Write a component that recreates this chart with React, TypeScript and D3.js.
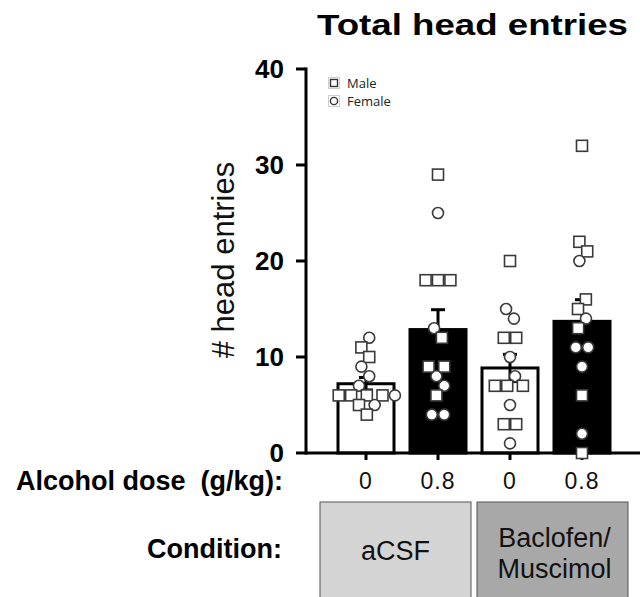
import React from 'react';
import * as d3 from 'd3';

// ---- data ----
const groupKeys = ['aCSF-0', 'aCSF-0.8', 'BM-0', 'BM-0.8'];
const doseLabels = ['0', '0.8', '0', '0.8'];
const conditionLabels = [['aCSF'], ['Baclofen/', 'Muscimol']];
const yTicks = [0, 10, 20, 30, 40];

const maleValues = [
  [11, 10, 6, 6, 6, 6, 5, 4],
  [29, 18, 18, 18, 12, 9, 9, 6],
  [20, 12, 12, 7, 7, 7, 3, 3],
  [32, 22, 21, 16, 15, 13, 6, 0],
];
const femaleValues = [
  [12, 9, 8, 7, 6, 5],
  [25, 13, 8, 7, 4, 4],
  [15, 14, 10, 8, 5, 1],
  [20, 14, 11, 11, 9, 2],
];

type Pt = { v: number; sex: 'M' | 'F'; x: number; y: number; fy?: number };

const W = 640;
const H = 597;

const App: React.FC = () => {
  const y = d3.scaleLinear().domain([0, 40]).range([453, 69]);
  const x = d3.scalePoint<string>().domain(groupKeys).range([366, 582]);

  const axisX = 306;
  const barW = 56;
  const mk = 11; // marker size

  const stats = groupKeys.map((g, i) => {
    const all = [...maleValues[i], ...femaleValues[i]];
    const mean = d3.mean(all) as number;
    const sem = (d3.deviation(all) as number) / Math.sqrt(all.length);
    return { g, mean, sem };
  });

  // simple beeswarm so overlapping points are spread sideways
  const swarms = groupKeys.map((g, i) => {
    const cx = x(g) as number;
    const pts: Pt[] = [
      ...maleValues[i].map(v => ({ v, sex: 'M' as const, x: 0, y: 0 })),
      ...femaleValues[i].map(v => ({ v, sex: 'F' as const, x: 0, y: 0 })),
    ].sort((a, b) => b.v - a.v);
    pts.forEach((p, k) => {
      const sign = k % 2 === 0 ? 1 : -1;
      p.x = cx + sign * (0.5 + 0.15 * k);
      p.y = y(p.v);
      p.fy = y(p.v);
    });
    const sim = d3
      .forceSimulation(pts as any)
      .force('x', d3.forceX(cx).strength(0.08))
      .force('collide', d3.forceCollide(6.2).iterations(3))
      .stop();
    for (let t = 0; t < 300; t++) sim.tick();
    return pts;
  });

  const mid = ((x(groupKeys[0]) as number) + (x(groupKeys[3]) as number)) / 2;
  const boxW = 151;
  const boxes = [
    { x0: mid - 3 - boxW, fill: '#d4d4d4', lines: conditionLabels[0] },
    { x0: mid + 3, fill: '#a8a8a8', lines: conditionLabels[1] },
  ];

  const font = 'Liberation Sans, Arial, Helvetica, sans-serif';

  const marker = (p: Pt, key: string) =>
    p.sex === 'M' ? (
      <rect
        key={key}
        x={p.x - mk / 2}
        y={p.y - mk / 2}
        width={mk}
        height={mk}
        fill="#fff"
        stroke="#3a3a3a"
        strokeWidth={1.6}
      />
    ) : (
      <circle key={key} cx={p.x} cy={p.y} r={mk / 2} fill="#fff" stroke="#3a3a3a" strokeWidth={1.6} />
    );

  return (
    <svg
      width={W}
      height={H}
      style={{ position: 'absolute', left: 0, top: 0, background: '#fff', fontFamily: font }}
    >
      {/* title */}
      <text x={317} y={35} fontSize={29} fontWeight="bold" textLength={311} lengthAdjust="spacingAndGlyphs">
        Total head entries
      </text>

      {/* legend */}
      <g fontFamily="Open Sans, DejaVu Sans, sans-serif" fontSize={13} fill="#222">
        <rect x={328.5} y={77.5} width={11} height={11} fill="none" stroke="#cfcfcf" />
        <rect x={330.5} y={79.5} width={7} height={7} fill="#fff" stroke="#333" strokeWidth={1.4} />
        <text x={347} y={88}>Male</text>
        <rect x={328.5} y={95.5} width={11} height={11} fill="none" stroke="#cfcfcf" />
        <circle cx={334} cy={101} r={3.6} fill="#fff" stroke="#333" strokeWidth={1.4} />
        <text x={347} y={106}>Female</text>
      </g>

      {/* y axis label */}
      <text
        transform={`translate(234,260) rotate(-90)`}
        textAnchor="middle"
        fontSize={31}
        fill="#111"
      >
        # head entries
      </text>

      {/* bars */}
      {stats.map((s, i) => {
        const cx = x(s.g) as number;
        return (
          <rect
            key={s.g}
            x={cx - barW / 2}
            y={y(s.mean)}
            width={barW}
            height={y(0) - y(s.mean)}
            fill={i % 2 === 0 ? '#fff' : '#000'}
            stroke="#000"
            strokeWidth={3}
          />
        );
      })}

      {/* error bars (SEM) */}
      {stats.map(s => {
        const cx = x(s.g) as number;
        const top = y(s.mean + s.sem);
        const bot = y(s.mean - s.sem);
        return (
          <g key={'e' + s.g} stroke="#000" strokeWidth={3}>
            <line x1={cx} x2={cx} y1={top} y2={bot} />
            <line x1={cx - 7} x2={cx + 7} y1={top} y2={top} />
            <line x1={cx - 7} x2={cx + 7} y1={bot} y2={bot} />
          </g>
        );
      })}

      {/* axes */}
      <g stroke="#000" strokeWidth={3}>
        <line x1={axisX} x2={axisX} y1={y(40) - 1.5} y2={y(0) + 1.5} />
        <line x1={axisX} x2={W} y1={y(0)} y2={y(0)} />
        {yTicks.map(t => (
          <line key={t} x1={axisX - 10} x2={axisX} y1={y(t)} y2={y(t)} />
        ))}
        {groupKeys.map(g => (
          <line key={g} x1={x(g)} x2={x(g)} y1={y(0)} y2={y(0) + 7} />
        ))}
      </g>
      {yTicks.map(t => (
        <text key={t} x={284} y={y(t) + 9} textAnchor="end" fontSize={26} fontWeight="bold">
          {t}
        </text>
      ))}

      {/* individual animals */}
      {swarms.map((pts, i) => pts.map((p, k) => marker(p, `${i}-${k}`)))}

      {/* x labels */}
      <text x={283} y={490} textAnchor="end" fontSize={27} fontWeight="bold" style={{ whiteSpace: 'pre' }}>
        {'Alcohol dose  (g/kg):'}
      </text>
      {groupKeys.map((g, i) => (
        <text key={g} x={x(g)} y={489} textAnchor="middle" fontSize={23} fill="#111" letterSpacing={1}>
          {doseLabels[i]}
        </text>
      ))}

      <text x={282} y={558} textAnchor="end" fontSize={27} fontWeight="bold">
        Condition:
      </text>
      {boxes.map((b, i) => (
        <g key={i}>
          <rect x={b.x0} y={502} width={boxW} height={H - 502 + 5} fill={b.fill} stroke="#555" strokeWidth={1} />
          {b.lines.map((l, j) => (
            <text
              key={l}
              x={b.x0 + boxW / 2 + (b.lines.length > 1 ? 2 : 0)}
              y={b.lines.length > 1 ? 547 + j * 31 : 560}
              textAnchor="middle"
              fontSize={27}
              fill="#111"
            >
              {l}
            </text>
          ))}
        </g>
      ))}
    </svg>
  );
};

export default App;
